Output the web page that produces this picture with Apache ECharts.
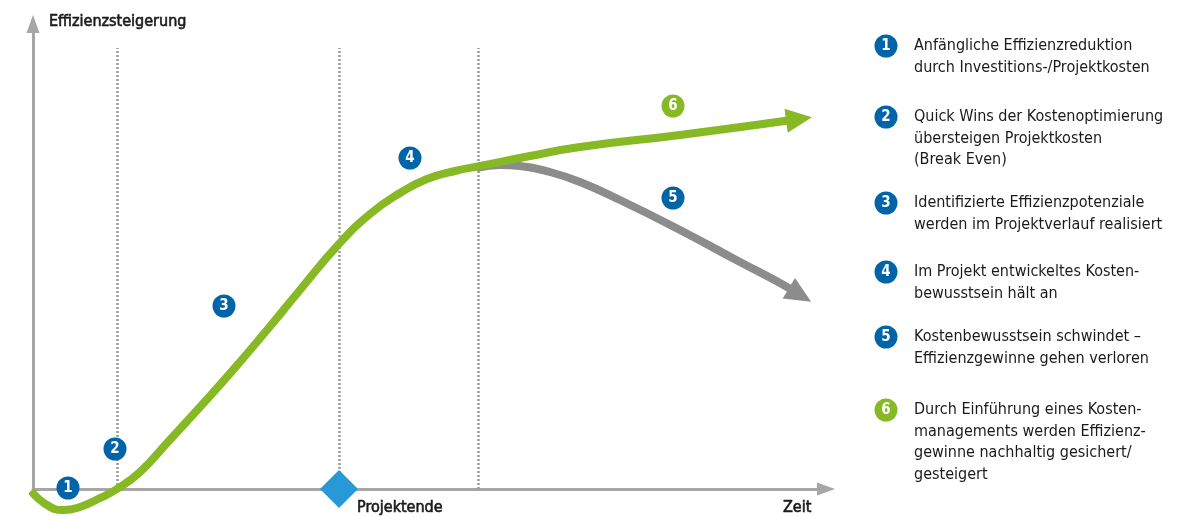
<!DOCTYPE html>
<html>
<head>
<meta charset="utf-8">
<script src="https://cdn.jsdelivr.net/npm/echarts@6/dist/echarts.min.js"></script>
<style>
html, body { margin: 0; padding: 0; background: #fff; }
#chart { width: 1191px; height: 517px; }
</style>
</head>
<body>
<div id="chart"></div>
<script>
const FONT = '"Liberation Sans Narrow", "DejaVu Sans Condensed", Roboto, sans-serif'

// Effizienz über Zeit (Einheiten ~ Pixel der Vorlage)
const greenCurve = [[-2, -2], [14, -16], [30, -21], [47, -18], [65, -10], [84, 0], [107, 17], [134, 46], [167, 82], [200, 119], [234, 159], [267, 199], [305, 244], [337, 275], [367, 296], [394, 310], [422, 318], [447, 323], [497, 333], [547, 342], [647, 354], [766, 370]]
const greyCurve = [[444, 321], [467, 324], [487, 323], [517, 317], [547, 307], [587, 289], [647, 259], [707, 227], [747, 206], [767, 194]]
const milestones = [84, 306, 445]
const milestoneTop = 441
const projectEnd = [306, 0]
const markerLabels = ['1', '2', '3', '4', '5', '6']
const markerPoints = [[35, 1], [82, 40], [191, 183], [377, 331], [640, 291], [640, 383]]
const notes = [
    ['Anfängliche Effizienzreduktion', 'durch Investitions-/Projektkosten'],
    ['Quick Wins der Kostenoptimierung', 'übersteigen Projektkosten', '(Break Even)'],
    ['Identifizierte Effizienzpotenziale', 'werden im Projektverlauf realisiert'],
    ['Im Projekt entwickeltes Kosten-', 'bewusstsein hält an'],
    ['Kostenbewusstsein schwindet –', 'Effizienzgewinne gehen verloren'],
    ['Durch Einführung eines Kosten-', 'managements werden Effizienz-', 'gewinne nachhaltig gesichert/', 'gesteigert']
]

const GREEN = '#86b924'
const GREY = '#8c8c8c'
const AXIS = '#a6a6a6'
const BLUE = '#0064a8'
const TEXT = '#1a1a1a'

const noteTops = [46, 117, 203, 272, 337, 410]
const noteLine = 21.5

const arrowHead = (pts) => {
    const a = pts[pts.length - 2]
    const b = pts[pts.length - 1]
    const deg = Math.atan2(b[1] - a[1], b[0] - a[0]) * 180 / Math.PI
    return { value: b, symbolRotate: deg - 90 }
}

const chart = echarts.init(document.getElementById('chart'))

// slightly heavier title text, like the medium weight in the original
const titleStyle = (text) => ({
    text, fill: TEXT, font: '16px ' + FONT, verticalAlign: 'middle',
    stroke: TEXT, lineWidth: 0.6
})

const graphics = []
notes.forEach((lines, i) => {
    graphics.push({
        type: 'circle',
        shape: { cx: 886, cy: noteTops[i], r: 11.5 },
        style: { fill: i === 5 ? GREEN : BLUE }
    })
    graphics.push({
        type: 'text',
        x: 886, y: noteTops[i],
        style: { text: markerLabels[i], fill: '#fff', font: 'bold 15px ' + FONT, align: 'center', verticalAlign: 'middle' }
    })
    graphics.push({
        type: 'text',
        x: 914, y: noteTops[i] - noteLine / 2,
        style: { text: lines.join('\n'), fill: TEXT, font: '16px ' + FONT, lineHeight: noteLine, verticalAlign: 'top' }
    })
})
graphics.push({ type: 'text', x: 49, y: 22, style: titleStyle('Effizienzsteigerung') })
graphics.push({ type: 'text', x: 783, y: 508, style: titleStyle('Zeit') })
graphics.push({ type: 'text', x: 357, y: 508, style: titleStyle('Projektende') })

const option = {
    animation: false,
    grid: { left: 33, right: 374, top: 33, bottom: 28 },
    xAxis: {
        type: 'value', min: 0, max: 784,
        axisLine: { lineStyle: { color: AXIS, width: 3 }, symbol: ['none', 'triangle'], symbolSize: [13, 18], symbolOffset: [0, 9] },
        axisTick: { show: false }, axisLabel: { show: false }, splitLine: { show: false }
    },
    yAxis: {
        type: 'value', min: 0, max: 456,
        axisLine: { show: true, lineStyle: { color: AXIS, width: 3 }, symbol: ['none', 'triangle'], symbolSize: [13, 18], symbolOffset: [0, 9] },
        axisTick: { show: false }, axisLabel: { show: false }, splitLine: { show: false }
    },
    graphic: graphics,
    series: [
        {
            type: 'lines',
            coordinateSystem: 'cartesian2d',
            z: 1,
            silent: true,
            lineStyle: { color: '#9a9a9a', width: 2.5, type: [2, 2], opacity: 1 },
            data: milestones.map(x => ({ coords: [[x, 0], [x, milestoneTop]] }))
        },
        {
            type: 'line',
            data: greyCurve,
            smooth: 0.5,
            symbol: 'none',
            clip: false,
            z: 2,
            lineStyle: { color: GREY, width: 8 }
        },
        {
            type: 'line',
            data: greenCurve,
            smooth: 0.5,
            symbol: 'none',
            clip: false,
            z: 3,
            lineStyle: { color: GREEN, width: 8 }
        },
        {
            type: 'scatter',
            clip: false,
            z: 4,
            symbol: 'triangle',
            symbolSize: [24, 26],
            data: [
                { ...arrowHead(greyCurve), itemStyle: { color: GREY, opacity: 1 } },
                { ...arrowHead(greenCurve), itemStyle: { color: GREEN, opacity: 1 } }
            ]
        },
        {
            type: 'scatter',
            clip: false,
            z: 5,
            symbol: 'diamond',
            symbolSize: [38, 38],
            itemStyle: { color: '#2899d7', opacity: 1 },
            data: [projectEnd]
        },
        {
            type: 'scatter',
            clip: false,
            z: 6,
            symbolSize: 23,
            data: markerPoints.map((p, i) => ({ value: p, itemStyle: { color: i === 5 ? GREEN : BLUE, opacity: 1 } })),
            label: {
                show: true, position: 'inside',
                formatter: (p) => markerLabels[p.dataIndex],
                color: '#fff', fontFamily: FONT, fontSize: 15, fontWeight: 'bold'
            }
        }
    ]
}

chart.setOption(option)
</script>
</body>
</html>
